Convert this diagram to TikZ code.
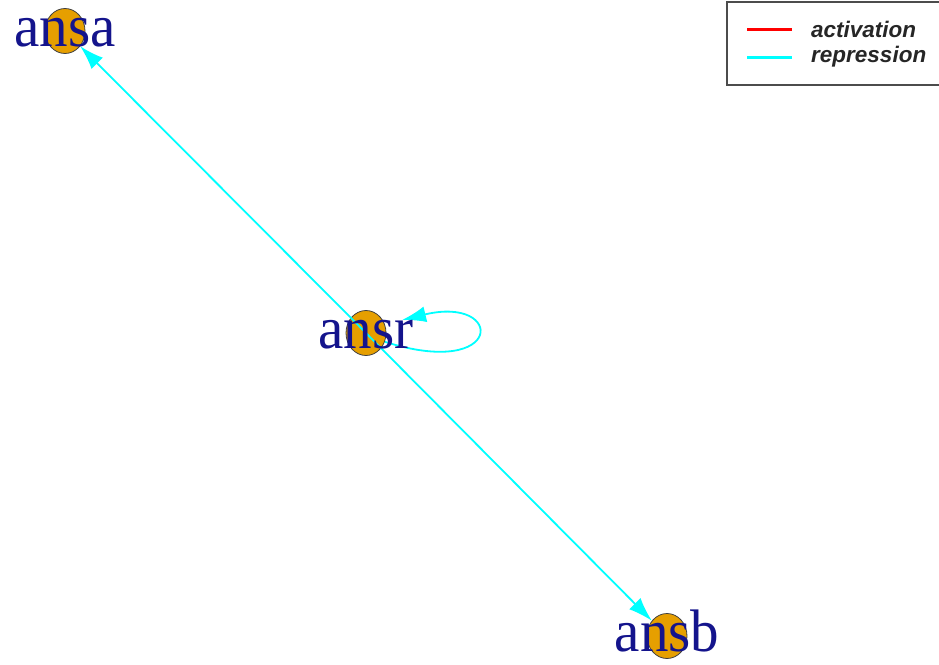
\documentclass[tikz,border=0pt]{standalone}
\usepackage{fontspec}
\setmainfont{Liberation Serif}
\newfontfamily\legendfont{Liberation Sans}
\usetikzlibrary{arrows.meta,shapes.geometric}
\definecolor{geneorange}{HTML}{E69F00}
\definecolor{genenavy}{RGB}{20,20,140}
\definecolor{repcyan}{RGB}{0,255,255}
\tikzset{
  gene/.style={ellipse, draw=black!75, fill=geneorange, minimum width=40pt, minimum height=45pt, inner sep=0pt, line width=0.8pt},
  genelabel/.style={text=genenavy, font=\fontsize{60}{60}\selectfont, inner sep=0pt, text height=27pt, text depth=0pt, yshift=-2pt, xscale=0.95, transform shape},
  rep/.style={draw=repcyan, line width=1.8pt, -{Latex[length=24pt,width=16pt]}},
  legendtext/.style={anchor=west, inner sep=0pt, font=\legendfont\bfseries\itshape\fontsize{22.5}{22.5}\selectfont, text=black!85}
}
\begin{document}
\begin{tikzpicture}[x=1pt, y=-1pt]
\useasboundingbox (0,0) rectangle (939,664);
% genes
\node[gene] (ansa) at (65,31) {};
\node[gene] (ansr) at (366,333) {};
\node[gene] (ansb) at (667,636) {};
% interactions
\draw[rep] (ansr.center) -- (ansa);
\draw[rep] (ansr.center) -- (ansb);
\coordinate (looptip) at (402,320);
\draw[rep] (ansr.-25) .. controls (505,380) and (505,295) .. (looptip);
% labels on top
\node[genelabel] (ansalab) at (ansa) {ansa};
\node[genelabel] (ansrlab) at (ansr) {ansr};
\node[genelabel] (ansblab) at (ansb) {ansb};
% legend
\draw[black!70, line width=1.2pt] (727,2) rectangle (945,85);
\coordinate (actA) at (747,29);
\coordinate (actB) at (792,29);
\coordinate (repA) at (747,57);
\coordinate (repB) at (792,57);
\draw[red, line width=3pt] (actA) -- (actB);
\draw[repcyan, line width=3pt] (repA) -- (repB);
\node[legendtext] (actlab) at (811,29) {activation};
\node[legendtext] (replab) at (811,57) {repression};
\end{tikzpicture}
\end{document}
